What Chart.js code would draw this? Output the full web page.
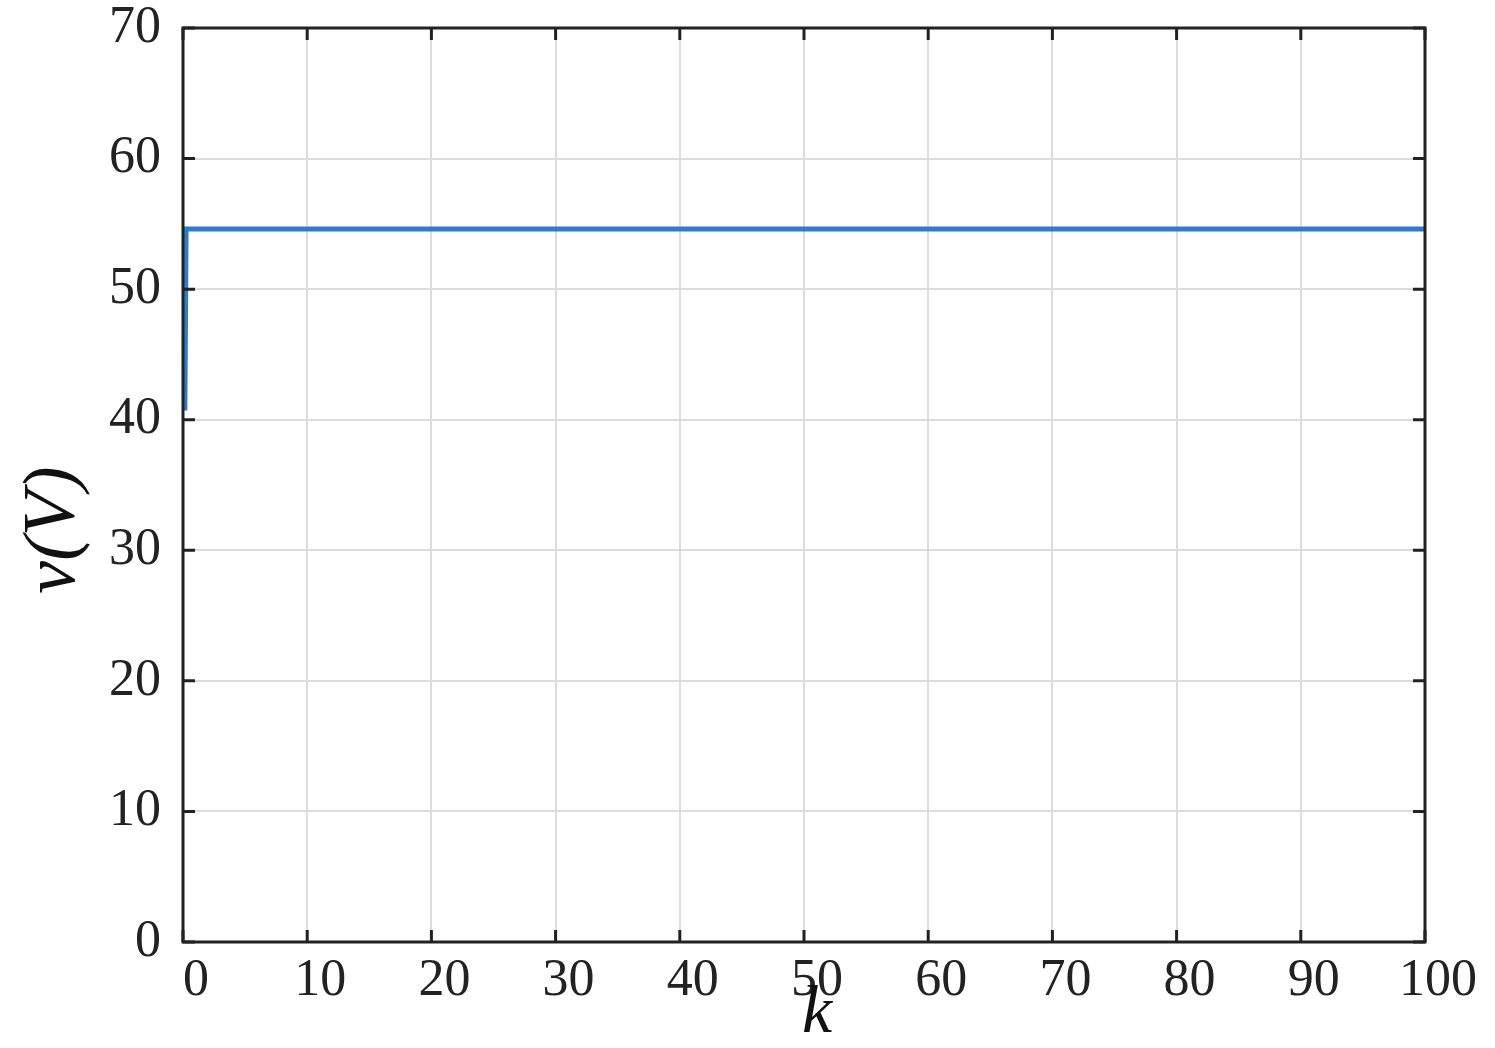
<!DOCTYPE html>
<html>
<head>
<meta charset="utf-8">
<script src="https://cdn.jsdelivr.net/npm/chart.js@4/dist/chart.umd.min.js"></script>
<style>
  body { margin: 0; background: #fff; }
  #wrap { width: 1495px; height: 1048px; }
</style>
</head>
<body>
<div id="wrap"><canvas id="chart"></canvas></div>
<script>
// values
const kValues = [0.15, 0.25, 100];
const vValues = [40.7, 54.6, 54.6];
const xTicks = [0, 10, 20, 30, 40, 50, 60, 70, 80, 90, 100];
const yTicks = [0, 10, 20, 30, 40, 50, 60, 70];

const points = kValues.map((k, i) => ({ x: k, y: vValues[i] }));
const serif = "'Liberation Serif', 'DejaVu Serif', serif";

// box, inner ticks and axis titles
const framePlugin = {
  id: 'frame',
  afterDatasetsDraw(chart) {
    const { ctx, chartArea: a, scales } = chart;
    ctx.save();
    ctx.strokeStyle = '#222';
    ctx.lineWidth = 3;
    ctx.beginPath();
    scales.x.ticks.forEach(t => {
      const px = scales.x.getPixelForValue(t.value);
      ctx.moveTo(px, a.bottom); ctx.lineTo(px, a.bottom - 12);
      ctx.moveTo(px, a.top); ctx.lineTo(px, a.top + 12);
    });
    scales.y.ticks.forEach(t => {
      const py = scales.y.getPixelForValue(t.value);
      ctx.moveTo(a.left, py); ctx.lineTo(a.left + 12, py);
      ctx.moveTo(a.right, py); ctx.lineTo(a.right - 12, py);
    });
    ctx.stroke();
    ctx.strokeRect(a.left, a.top, a.right - a.left, a.bottom - a.top);

    ctx.fillStyle = '#111';
    ctx.font = 'italic 68px ' + serif;
    ctx.textAlign = 'center';
    ctx.textBaseline = 'alphabetic';
    ctx.fillText('k', (a.left + a.right) / 2 + 13, 1032);
    ctx.font = 'italic 74px ' + serif;
    ctx.translate(74, 530);
    ctx.rotate(-Math.PI / 2);
    ctx.fillText('v(V)', 0, 0);
    ctx.restore();
  }
};

new Chart('chart', {
  type: 'scatter',
  data: {
    datasets: [{
      data: points,
      showLine: true,
      borderColor: '#2f7cc9',
      borderWidth: 5,
      pointRadius: 0,
      tension: 0
    }]
  },
  options: {
    responsive: true,
    maintainAspectRatio: false,
    animation: false,
    layout: { padding: { top: 28, right: 70, left: 0, bottom: 0 } },
    plugins: { legend: { display: false }, tooltip: { enabled: false } },
    scales: {
      x: {
        type: 'linear',
        min: 0, max: 100,
        afterBuildTicks: s => { s.ticks = xTicks.map(v => ({ value: v })); },
        afterFit: s => { s.height = 106; s.paddingLeft = 0; s.paddingRight = 0; },
        grid: { color: '#dcdcdc', lineWidth: 2, drawTicks: false },
        border: { display: false },
        ticks: {
          padding: 8,
          labelOffset: 13,
          color: '#222',
          font: { family: serif, size: 52 },
          maxRotation: 0,
          autoSkip: false
        }
      },
      y: {
        type: 'linear',
        min: 0, max: 70,
        afterBuildTicks: s => { s.ticks = yTicks.map(v => ({ value: v })); },
        afterFit: s => { s.width = 183; s.paddingTop = 0; s.paddingBottom = 0; },
        grid: { color: '#dcdcdc', lineWidth: 2, drawTicks: false },
        border: { display: false },
        ticks: {
          padding: 22,
          color: '#222',
          font: { family: serif, size: 52 },
          autoSkip: false
        }
      }
    }
  },
  plugins: [framePlugin]
});
</script>
</body>
</html>
